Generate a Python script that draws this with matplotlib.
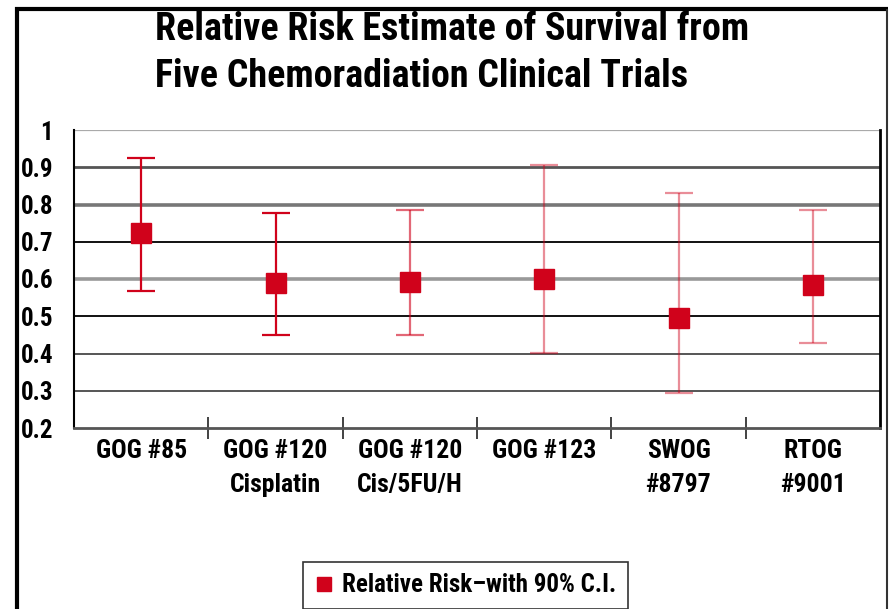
import numpy as np
import matplotlib.pyplot as plt
from matplotlib.lines import Line2D
from matplotlib import font_manager

# Relative risk estimates with 90% confidence limits
trials = ["GOG #85", "GOG #120\nCisplatin", "GOG #120\nCis/5FU/H",
          "GOG #123", "SWOG\n#8797", "RTOG\n#9001"]
risk = [0.724, 0.590, 0.592, 0.600, 0.494, 0.584]
ci_low = [0.568, 0.449, 0.450, 0.402, 0.293, 0.427]
ci_high = [0.924, 0.778, 0.785, 0.906, 0.830, 0.785]
bar_alpha = [1.0, 1.0, 0.6, 0.45, 0.45, 0.45]
yticks = [0.2, 0.3, 0.4, 0.5, 0.6, 0.7, 0.8, 0.9, 1.0]
ytick_labels = ["0.2", "0.3", "0.4", "0.5", "0.6", "0.7", "0.8", "0.9", "1"]

red = "#d0021b"

# pick a narrow bold face like the original, if there is one
installed = {f.name for f in font_manager.fontManager.ttflist}
fam, k = "DejaVu Sans", 0.85
for name, factor in [("Roboto Condensed", 1.0), ("Liberation Sans Narrow", 1.02)]:
    if name in installed:
        fam, k = name, factor
        break
font = dict(family=fam, fontstretch="condensed", fontweight="bold")

fig = plt.figure(figsize=(8.9, 6.09), dpi=100)
ax = fig.add_axes([74 / 890, 1 - 428 / 609, 806 / 890, 298 / 609])

x = np.arange(len(trials))
for i in x:
    ax.errorbar(x[i], risk[i],
                yerr=[[risk[i] - ci_low[i]], [ci_high[i] - risk[i]]],
                fmt="none", ecolor=red, alpha=bar_alpha[i], elinewidth=1.6,
                capsize=10, capthick=1.6, zorder=3)
ax.plot(x, risk, "s", color=red, markersize=14.5, zorder=4)

ax.set_xlim(-0.5, len(trials) - 0.5)
ax.set_ylim(0.2, 1.0)
ax.set_yticks(yticks)
ax.set_yticklabels(ytick_labels, fontsize=18 * k, **font)
ax.tick_params(axis="y", length=0, pad=15)

# category labels centred, ticks between the categories
ax.set_xticks(x)
ax.set_xticklabels(trials, fontsize=18.5 * k, linespacing=1.5, va="top", **font)
ax.tick_params(axis="x", which="major", length=0, pad=8)
ax.set_xticks(np.arange(0.5, len(trials) - 0.5, 1.0), minor=True)
ax.tick_params(axis="x", which="minor", length=16, direction="inout",
               width=1.2, color="#222222")

grid_style = {0.3: ("#555555", 1.4), 0.4: ("#555555", 1.4),
              0.5: ("#111111", 1.4), 0.6: ("#999999", 2.6),
              0.7: ("#111111", 1.4), 0.8: ("#777777", 2.6),
              0.9: ("#555555", 2.0), 1.0: ("#aaaaaa", 1.6)}
for yv, (c, lw) in grid_style.items():
    ax.axhline(yv, color=c, lw=lw, zorder=1)

ax.spines["top"].set_visible(False)
ax.spines["left"].set_linewidth(1.5)
ax.spines["right"].set_linewidth(2.0)
ax.spines["bottom"].set_color("#555555")
ax.spines["bottom"].set_linewidth(2.0)

fig.text(155 / 890, 1 - 11 / 609,
         "Relative Risk Estimate of Survival from\nFive Chemoradiation Clinical Trials",
         ha="left", va="top", fontsize=27.4 * k, linespacing=1.33, **font)

leg = ax.legend([Line2D([], [], marker="s", ls="none", color=red, markersize=10.5)],
                ["Relative Risk\u2013with 90% C.I."],
                loc="lower left", bbox_to_anchor=(290 / 890, -12 / 609),
                bbox_transform=fig.transFigure, frameon=True, fancybox=False,
                edgecolor="black", handletextpad=0.35, borderpad=0.45,
                handlelength=0.8,
                prop=dict(family=fam, stretch="condensed", size=18 * k, weight="bold"))
leg.get_frame().set_linewidth(1.2)

# outer frame of the figure (open at the bottom)
frame = dict(transform=fig.transFigure, solid_capstyle="butt")
fig.add_artist(Line2D([17 / 890, 17 / 890], [0, 1 - 7 / 609], color="black",
                      lw=3.0, **frame))
fig.add_artist(Line2D([15 / 890, 888 / 890], [1 - 9 / 609, 1 - 9 / 609],
                      color="black", lw=3.0, **frame))
fig.add_artist(Line2D([887 / 890, 887 / 890], [0, 1 - 9 / 609], color="#333333",
                      lw=1.5, **frame))

fig.savefig("out.png", dpi=100)
